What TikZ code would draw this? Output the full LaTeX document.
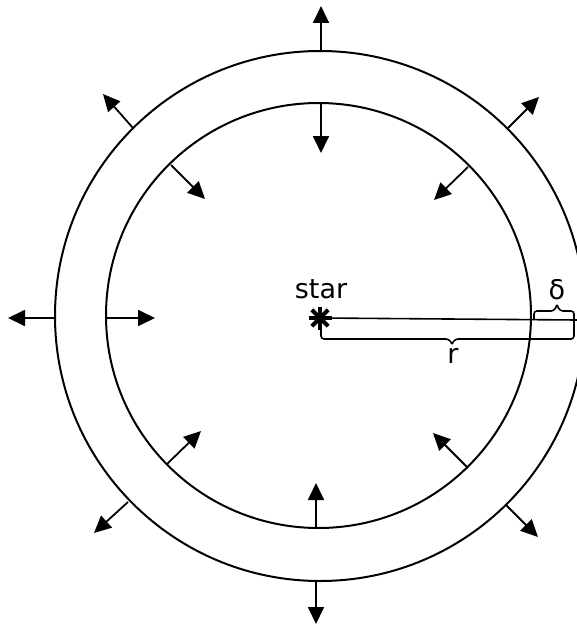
\documentclass[tikz,border=0pt]{standalone}
\usepackage{fontspec}
\setmainfont{DejaVu Sans}
\usetikzlibrary{arrows.meta,calc}
\tikzset{
  ring/.style={line width=2pt},
  flow/.style={line width=1.8pt,-{Triangle[length=17pt,width=16pt]}},
  dim/.style={line width=1.6pt,rounded corners=3pt},
  lab/.style={inner sep=0pt,font=\fontsize{27}{27}\selectfont}
}
\begin{document}
\begin{tikzpicture}[x=1pt,y=-1pt]
\useasboundingbox (0,0) rectangle (577,626);
\clip (0,0) rectangle (577,626);
% shells
\coordinate (cin) at (318.5,315.5);
\coordinate (cout) at (320,316);
\draw[ring] (cin) circle (212.5);
\draw[ring] (cout) circle (265);
% outer arrows (outward)
\foreach \sx/\sy/\tx/\ty [count=\i] in {321/52/321/6, 316/580/316/624, 54/318/8/318,
  133/128/103/94, 507/129/539/97, 128/502/94/533, 506/505/538/537}{
  \coordinate (os\i) at (\sx,\sy);
  \coordinate (ot\i) at (\tx,\ty);
  \draw[flow] (os\i) -- (ot\i);
}
% inner arrows (inward)
\foreach \sx/\sy/\tx/\ty [count=\i] in {321/103/321/153, 316/528/316/483, 107/318/155/318,
  171/165/205/199, 468/167/434/200, 167/464/201/431, 468/468/433/433}{
  \coordinate (is\i) at (\sx,\sy);
  \coordinate (it\i) at (\tx,\ty);
  \draw[flow] (is\i) -- (it\i);
}
% star
\coordinate (star) at (320,318);
\foreach \a in {0,45,90,135}{
  \draw[line width=4pt] ($(star)+(\a:11.5)$) -- ($(star)+(\a+180:11.5)$);
}
\node[lab] (starlab) at (321,289) {star};
% radius line
\coordinate (edge) at (577,320);
\draw[line width=1.6pt] (star) -- (edge);
% r brace and delta brace
\coordinate (rl) at (321,326);
\coordinate (rtip) at (452,344);
\coordinate (dtip) at (557,305);
\coordinate (dl) at (534,319);
\draw[dim] (rl) -- (321,339) -- (449,339) -- (rtip);
\draw[dim] (rtip) -- (455,339) -- (574,339) -- (574,311) -- (560,311) -- (dtip);
\draw[dim] (dtip) -- (554,311) -- (534,311) -- (dl);
\node[lab] (rlab) at (453,356) {r};
\node[lab] (dlab) at (557,290) {δ};
\end{tikzpicture}
\end{document}
